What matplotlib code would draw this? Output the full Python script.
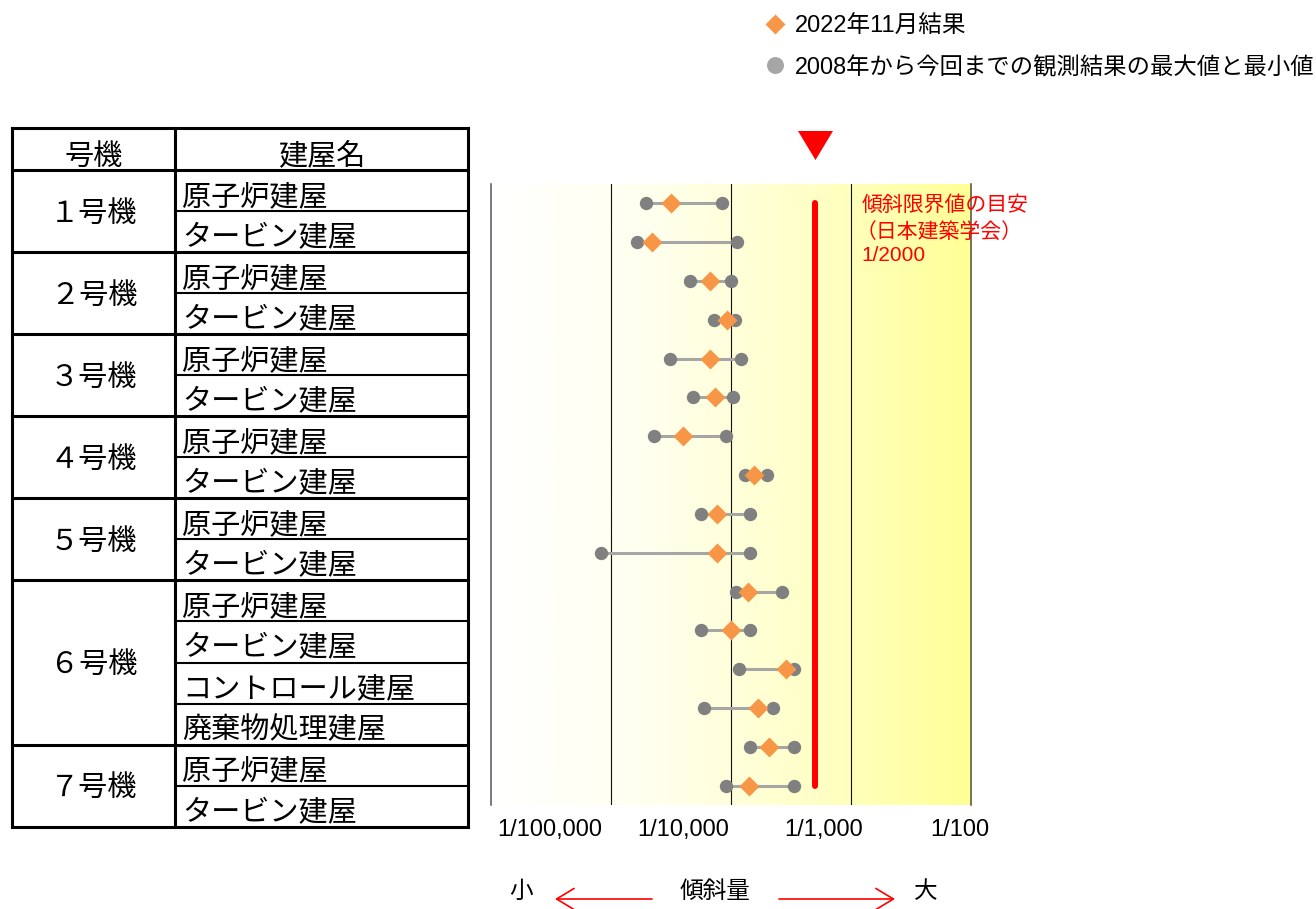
import numpy as np
import matplotlib
matplotlib.use("Agg")
import matplotlib.pyplot as plt
from matplotlib.colors import LinearSegmentedColormap
from matplotlib.patches import FancyArrowPatch
import matplotlib.transforms as mtransforms

plt.rcParams['font.family'] = ['Liberation Sans', 'Noto Sans CJK JP']

# 号機 and its number of buildings
units = ['１号機', '２号機', '３号機', '４号機', '５号機', '６号機', '７号機']
unit_rows = [2, 2, 2, 2, 2, 4, 2]

buildings = ['原子炉建屋', 'タービン建屋',
             '原子炉建屋', 'タービン建屋',
             '原子炉建屋', 'タービン建屋',
             '原子炉建屋', 'タービン建屋',
             '原子炉建屋', 'タービン建屋',
             '原子炉建屋', 'タービン建屋', 'コントロール建屋', '廃棄物処理建屋',
             '原子炉建屋', 'タービン建屋']

# tilt values
tilt_min = [1.96e-5, 1.65e-5, 4.55e-5, 7.2e-5, 3.12e-5, 4.8e-5, 2.27e-5, 1.31e-4,
            5.6e-5, 8.2e-6, 1.10e-4, 5.6e-5, 1.16e-4, 5.9e-5, 1.44e-4, 9.1e-5]
tilt_now = [3.14e-5, 2.18e-5, 6.7e-5, 9.2e-5, 6.7e-5, 7.3e-5, 4.0e-5, 1.56e-4,
            7.7e-5, 7.7e-5, 1.38e-4, 1.0e-4, 2.86e-4, 1.67e-4, 2.08e-4, 1.41e-4]
tilt_max = [8.4e-5, 1.12e-4, 1.0e-4, 1.08e-4, 1.2e-4, 1.03e-4, 9.1e-5, 2.0e-4,
            1.43e-4, 1.43e-4, 2.65e-4, 1.43e-4, 3.35e-4, 2.22e-4, 3.35e-4, 3.35e-4]

limit = 1 / 2000
decades = [1e-5, 1e-4, 1e-3, 1e-2]
decade_labels = ['1/100,000', '1/10,000', '1/1,000', '1/100']
label_shift = [-44.3, -34.2, -19.4, -7.9]  # points

legend_now = '2022年11月結果'
legend_range = '2008年から今回までの観測結果の最大値と最小値'
limit_text = ['傾斜限界値の目安', '（日本建築学会）', '1/2000']

W, H = 1316, 909
fig = plt.figure(figsize=(W / 100, H / 100), dpi=100)

# full figure overlay in pixel coordinates (table, legend, bottom labels)
ax_bg = fig.add_axes([0, 0, 1, 1])
ax_bg.set_xlim(0, W)
ax_bg.set_ylim(H, 0)
ax_bg.axis('off')

rect = [491 / W, (H - 805) / H, 480 / W, 621 / H]

# background gradient
ax_grad = fig.add_axes(rect)
cmap = LinearSegmentedColormap.from_list('wy', ['#FFFFFF', '#FFFFEE', '#FFFFC8', '#FFFF96'])
grad = np.linspace(0, 1, 512).reshape(1, -1)
ax_grad.imshow(grad, cmap=cmap, aspect='auto', extent=(0, 1, 0, 1))
ax_grad.axis('off')

ax = fig.add_axes(rect)
ax.set_facecolor('none')
ax.set_xscale('log')
ax.set_xlim(1e-6, 1e-2)
n = len(buildings)
ax.set_ylim(n - 0.5, -0.5)
ax.set_yticks([])
ax.set_xticks([])
ax.xaxis.set_minor_locator(matplotlib.ticker.NullLocator())
ax.tick_params(length=0, labelbottom=False)
ax.spines['top'].set_visible(False)
ax.spines['bottom'].set_visible(False)
ax.spines['left'].set_color('#555555')
ax.spines['left'].set_linewidth(1.1)
ax.spines['right'].set_color('#4D4D2E')
ax.spines['right'].set_linewidth(1.1)
for v in decades[:3]:
    ax.axvline(v, color='#111111', lw=0.8, zorder=1)

rows = np.arange(n)
ax.hlines(rows, tilt_min, tilt_max, color='#A6A6A6', lw=2.2, zorder=2)
ax.plot(tilt_min, rows, 'o', ms=8.6, color='#808080', zorder=3)
ax.plot(tilt_max, rows, 'o', ms=8.6, color='#808080', zorder=3)
ax.plot(tilt_now, rows, 'D', ms=10.4, color='#F79646', mec='none', zorder=4)

ax.plot([limit, limit], [rows[0], rows[-1]], color='#FF0000', lw=4.3,
        solid_capstyle='round', zorder=5)
tri = [(-1, 0.83), (1, 0.83), (0, -0.83)]
btrans = mtransforms.blended_transform_factory(ax.transData, ax.transAxes)
ax.plot([limit], [1.0634], marker=tri, ms=25.2, color='#FF0000', mec='none',
        transform=btrans, clip_on=False)

for txt, dx, dy in zip(limit_text, [7.5, 3.5, 7.5], [-15.0, -34.8, -51.8]):
    ax.annotate(txt, xy=(1e-3, 1), xycoords=btrans, xytext=(dx, dy),
                textcoords='offset points', color='#FF0000', fontsize=15,
                ha='left', va='center', annotation_clip=False)

for v, lab, dx in zip(decades, decade_labels, label_shift):
    ax.annotate(lab, xy=(v, 0), xycoords=btrans, xytext=(dx, -18),
                textcoords='offset points', fontsize=17, ha='center', va='center',
                annotation_clip=False)

# legend
ax_bg.plot(775, 24, 'D', ms=10, color='#F79646', mec='none')
ax_bg.text(795, 26.5, legend_now, fontsize=17, va='center', ha='left')
ax_bg.plot(775, 64.5, 'o', ms=12.2, color='#A6A6A6', mec='none')
ax_bg.text(795, 68, legend_range, fontsize=16.8, va='center', ha='left')

# bottom labels and arrows
ax_bg.text(521, 892, '小', fontsize=17, ha='center', va='center')
ax_bg.text(715, 892, '傾斜量', fontsize=17, ha='center', va='center')
ax_bg.text(926, 892, '大', fontsize=17, ha='center', va='center')
for x0, x1 in [(652, 555), (779, 895)]:
    ax_bg.add_patch(FancyArrowPatch((x0, 899), (x1, 899),
                                    arrowstyle='->,head_length=12.6,head_width=7.6',
                                    mutation_scale=1, color='#FF0000', lw=1.2,
                                    shrinkA=0, shrinkB=0))

# table
x0, x1, x2 = 12, 175, 468
top, head_bot = 128, 170
row_h = (826.7 - head_bot) / n
thick, thin = 2.2, 1.5
line_kw = dict(color='black', solid_capstyle='projecting')
ax_bg.plot([x0, x2], [top, top], lw=thick, **line_kw)
ax_bg.plot([x0, x2], [head_bot, head_bot], lw=thick, **line_kw)
bottom = head_bot + n * row_h
ax_bg.plot([x0, x2], [bottom, bottom], lw=thick, **line_kw)
ax_bg.plot([x0, x0], [top, bottom], lw=thick, **line_kw)
ax_bg.plot([x1, x1], [top, bottom], lw=thick, **line_kw)
ax_bg.plot([x2, x2], [top, bottom], lw=thick, **line_kw)
ax_bg.text((x0 + x1) / 2, (top + head_bot) / 2 + 8, '号機', fontsize=21,
           ha='center', va='center')
ax_bg.text((x1 + x2) / 2, (top + head_bot) / 2 + 8, '建屋名', fontsize=21,
           ha='center', va='center')

r = 0
for unit, cnt in zip(units, unit_rows):
    y_start = head_bot + r * row_h
    y_end = head_bot + (r + cnt) * row_h
    ax_bg.text((x0 + x1) / 2, (y_start + y_end) / 2 + 2.5, unit, fontsize=21,
               ha='center', va='center')
    for k in range(1, cnt):
        yy = y_start + k * row_h
        ax_bg.plot([x1, x2], [yy, yy], lw=thin, **line_kw)
    if r + cnt < n:
        ax_bg.plot([x0, x2], [y_end, y_end], lw=thick, **line_kw)
    r += cnt

for i, b in enumerate(buildings):
    yc = head_bot + (i + 0.5) * row_h
    ax_bg.text(182, yc + 6.5, b, fontsize=21, ha='left', va='center')

fig.savefig('out.png', dpi=100)
